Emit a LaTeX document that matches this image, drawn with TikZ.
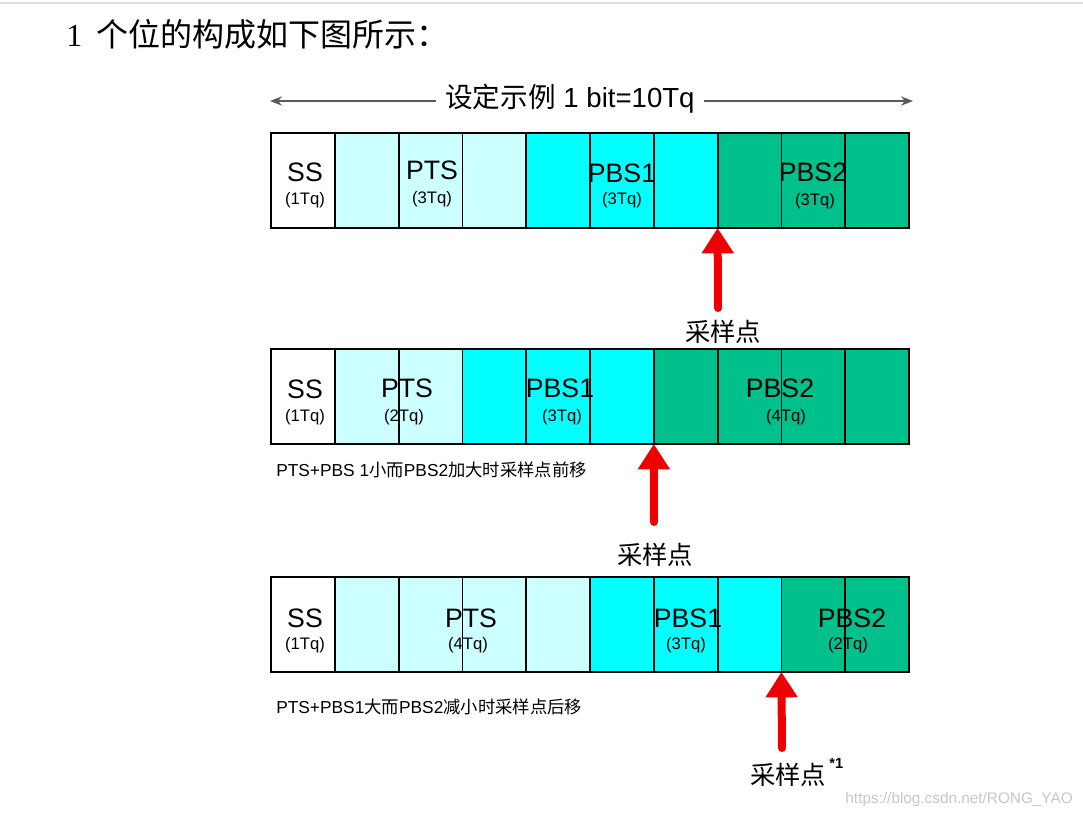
\documentclass[tikz,border=0pt]{standalone}
\usepackage{fontspec}
\setmainfont{Liberation Sans}
\newfontfamily\cjk{Noto Sans CJK SC}
\newfontfamily\serifnum{Liberation Serif}
\usetikzlibrary{arrows.meta}
\definecolor{ptsc}{RGB}{204,255,255}
\definecolor{pbsa}{RGB}{0,255,255}
\definecolor{pbsb}{RGB}{0,192,140}
\definecolor{redc}{RGB}{238,0,0}
\definecolor{dimc}{RGB}{90,90,90}
\tikzset{
  cell/.style={draw=black, line width=1.35pt, minimum width=47.85pt, minimum height=71.25pt, anchor=north west, inner sep=0pt, outer sep=0pt},
  big/.style={font=\fontsize{20}{20}\selectfont, inner sep=0pt},
  small/.style={font=\fontsize{12.5}{12.5}\selectfont, inner sep=0pt},
  samp/.style={draw=redc, line width=6pt, line cap=round, -{Triangle[width=23pt,length=19pt]}},
  samplabel/.style={font=\fontsize{19}{19}\cjk, inner sep=0pt},
  caption/.style={font=\fontsize{13}{13}\selectfont, inner sep=0pt, anchor=west},
  dim/.style={draw=dimc, line width=1.5pt, -{Stealth[length=9pt,width=7pt]}}
}
\begin{document}
\begin{tikzpicture}[x=0.75pt,y=-0.75pt]
\useasboundingbox (0,0) rectangle (1083,818);
\draw[gray!25, line width=0.8pt] (0,3) -- (1083,3);
% header
\node[anchor=west, inner sep=0pt, font=\fontsize{24}{24}\selectfont] (head) at (66,34) {{\serifnum 1}\hspace{0.45em}{\cjk 个位的构成如下图所示：}};
% title with dimension arrows
\node[font=\fontsize{20.7}{20.7}\selectfont, inner xsep=7pt, inner ysep=0pt] (title) at (570,99) {{\cjk 设定示例} 1 bit=10Tq};
\coordinate (tl) at (270,101);
\coordinate (tr) at (913,101);
\draw[dim] ([yshift=-1.5pt]title.west) -- (tl);
\draw[dim] ([yshift=-1.5pt]title.east) -- (tr);
% row 1
\foreach \c [count=\i] in {white,ptsc,ptsc,ptsc,pbsa,pbsa,pbsa,pbsb,pbsb,pbsb}
  \node[cell, fill=\c] (a\i) at ({271+(\i-1)*63.8},133) {};
% row 2
\foreach \c [count=\i] in {white,ptsc,ptsc,pbsa,pbsa,pbsa,pbsb,pbsb,pbsb,pbsb}
  \node[cell, fill=\c] (b\i) at ({271+(\i-1)*63.8},349) {};
% row 3
\foreach \c [count=\i] in {white,ptsc,ptsc,ptsc,ptsc,pbsa,pbsa,pbsa,pbsb,pbsb}
  \node[cell, fill=\c] (c\i) at ({271+(\i-1)*63.8},577) {};
% row 1 labels
\node[big] (a-ss) at (305,172) {SS};
\node[small] (a-ss2) at (305,200) {(1Tq)};
\node[big] (a-pts) at (432,170) {PTS};
\node[small] (a-pts2) at (432,199) {(3Tq)};
\node[big] (a-p1) at (622,173) {PBS1};
\node[small] (a-p12) at (622,200) {(3Tq)};
\node[big] (a-p2) at (813,172) {PBS2};
\node[small] (a-p22) at (815,201) {(3Tq)};
% row 2 labels
\node[big] (b-ss) at (305,389) {SS};
\node[small] (b-ss2) at (305,417) {(1Tq)};
\node[big] (b-pts) at (407,388) {PTS};
\node[small] (b-pts2) at (404,417) {(2Tq)};
\node[big] (b-p1) at (560,388) {PBS1};
\node[small] (b-p12) at (562,417) {(3Tq)};
\node[big] (b-p2) at (780,388) {PBS2};
\node[small] (b-p22) at (786,417) {(4Tq)};
% row 3 labels
\node[big] (c-ss) at (305,618) {SS};
\node[small] (c-ss2) at (305,645) {(1Tq)};
\node[big] (c-pts) at (471,618) {PTS};
\node[small] (c-pts2) at (468,645) {(4Tq)};
\node[big] (c-p1) at (688,618) {PBS1};
\node[small] (c-p12) at (686,645) {(3Tq)};
\node[big] (c-p2) at (852,618) {PBS2};
\node[small] (c-p22) at (848,645) {(2Tq)};
% captions
\node[caption] (capb) at (276,470) {PTS+PBS 1{\cjk 小而}PBS2{\cjk 加大时采样点前移}};
\node[caption] (capc) at (276,707) {PTS+PBS1{\cjk 大而}PBS2{\cjk 减小时采样点后移}};
% sampling arrows
\coordinate (sa) at (718,308);
\coordinate (sb) at (654,522);
\coordinate (sc) at (782,748);
\draw[samp] (sa) -- (a7.south east);
\draw[samp] (sb) -- (b6.south east);
\draw[samp] (sc) -- (c8.south east);
\node[samplabel] (la) at (723,332) {采样点};
\node[samplabel] (lb) at (655,555) {采样点};
\node[samplabel, anchor=west] (lc) at (750,775) {采样点};
\node[inner sep=0pt, anchor=west, font=\fontsize{11}{11}\selectfont\bfseries] (lcsup) at ([xshift=2pt]lc.north east) {*1};
% watermark url
\node[inner sep=0pt, anchor=east, text=gray!45, font=\fontsize{11.5}{11.5}\selectfont] (url) at (1073,800) {https://blog.csdn.net/RONG\_YAO};
\end{tikzpicture}
\end{document}
